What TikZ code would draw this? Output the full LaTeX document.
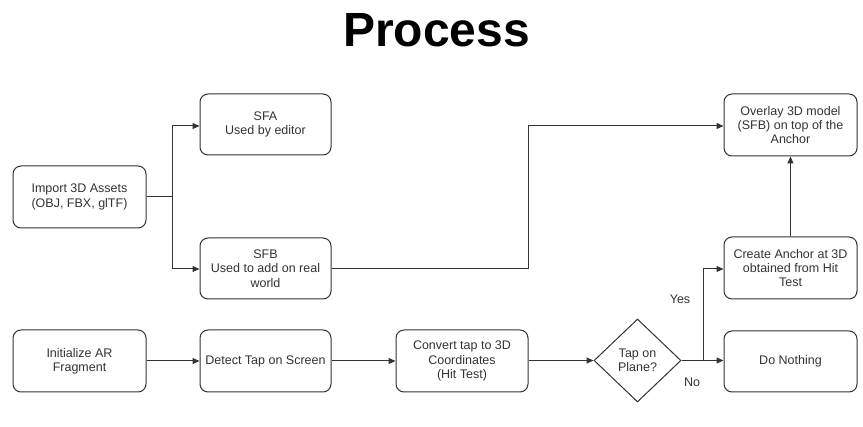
\documentclass[tikz,border=0pt]{standalone}
\usepackage{fontspec}
\setmainfont{Liberation Sans}
\usetikzlibrary{shapes.geometric,arrows.meta}
\definecolor{ink}{HTML}{333333}
\tikzset{
  box/.style={draw=ink, line width=1pt, rounded corners=8pt, align=center,
    text=ink, font=\fontsize{12.5}{14.3}\selectfont, inner sep=1pt},
  decision/.style={draw=ink, line width=1pt, diamond, align=center, text=ink,
    font=\fontsize{12.5}{14.3}\selectfont, inner sep=0pt,
    minimum width=87pt, minimum height=83pt},
  flow/.style={draw=ink, line width=1pt, -{Triangle[length=7pt,width=6pt]}},
  lbl/.style={text=ink, font=\fontsize{12.5}{14.3}\selectfont}
}
\begin{document}
\begin{tikzpicture}[x=1pt,y=-1pt]
\useasboundingbox (0,0) rectangle (863,427);
\fill[white] (0,0) rectangle (863,427);

% heading
\node[anchor=base, font=\fontsize{48}{50}\selectfont\bfseries] (title) at (436.5,47) {Process};

% asset pipeline
\node[box, minimum width=133pt, minimum height=62pt] (import) at (79.5,197) {Import 3D Assets\\(OBJ, FBX, glTF)};
\node[box, minimum width=131pt, minimum height=61pt] (sfa) at (265.5,124.5) {SFA\\Used by editor};
\node[box, minimum width=131pt, minimum height=61pt] (sfb) at (265.5,268.5) {SFB\\Used to add on real\\world};

% AR session pipeline
\node[box, minimum width=133pt, minimum height=62pt] (init) at (79.5,361) {Initialize AR\\Fragment};
\node[box, minimum width=131pt, minimum height=62pt] (detect) at (265.5,361) {Detect Tap on Screen};
\node[box, minimum width=132pt, minimum height=62pt] (convert) at (462,361) {Convert tap to 3D\\Coordinates\\(Hit Test)};
\node[decision] (plane) at (637.5,360.5) {Tap on\\Plane?};
\node[box, minimum width=133pt, minimum height=62pt] (overlay) at (790.5,125) {Overlay 3D model\\(SFB) on top of the\\Anchor};
\node[box, minimum width=133pt, minimum height=62pt] (anchor) at (790.5,268) {Create Anchor at 3D\\obtained from Hit\\Test};
\node[box, minimum width=133pt, minimum height=61pt] (nothing) at (790.5,361.5) {Do Nothing};

% junctions
\coordinate (split) at (172,197);
\coordinate (fork) at (703,360.5);

% connectors
\draw[draw=ink, line width=1pt] (import.east) -- (split);
\draw[flow] (split) |- (sfa.west |- 0,126);
\draw[flow] (split) |- (sfb.west |- 0,269);
\draw[flow] (sfb.east |- 0,269) -- (528,269) |- (overlay.west |- 0,126);

\draw[flow] (init) -- (detect);
\draw[flow] (detect) -- (convert);
\draw[flow] (convert.east |- plane) -- (plane.west);
\draw[flow] (plane.east) -- (nothing.west |- plane);
\draw[flow] (fork) |- (anchor.west |- 0,269);
\draw[flow] (anchor.north) -- (overlay.south);

% branch labels
\node[lbl] (yes) at (680,299) {Yes};
\node[lbl] (no) at (692,382) {No};
\end{tikzpicture}
\end{document}
